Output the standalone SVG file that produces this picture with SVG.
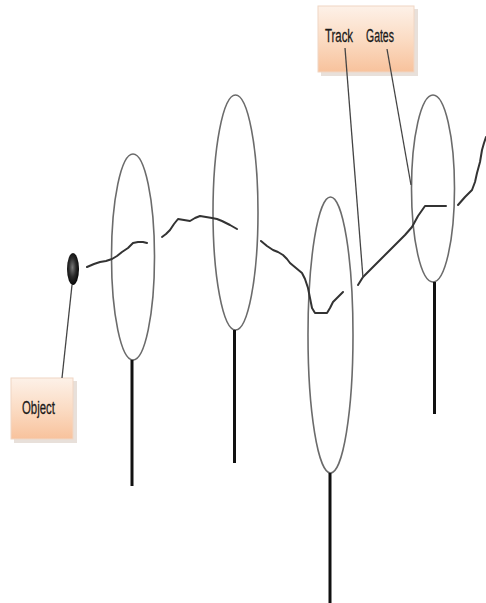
<svg xmlns="http://www.w3.org/2000/svg" width="486" height="603" viewBox="0 0 486 603">
<defs>
<linearGradient id="peach" x1="0" y1="0" x2="0" y2="1">
<stop offset="0" stop-color="#fdf1e8"/>
<stop offset="0.5" stop-color="#fbdcc4"/>
<stop offset="1" stop-color="#f8c29c"/>
</linearGradient>
<radialGradient id="ball" cx="0.45" cy="0.45" r="0.6">
<stop offset="0" stop-color="#777"/>
<stop offset="0.5" stop-color="#2a2a2a"/>
<stop offset="1" stop-color="#000"/>
</radialGradient>
</defs>
<style>
.gate{fill:none;stroke:#6b6b6b;stroke-width:1.6}
.pole{stroke:#111;stroke-width:3}
.track{fill:none;stroke:#333;stroke-width:2;stroke-linejoin:round;stroke-linecap:round}
.lead{fill:none;stroke:#444;stroke-width:1.3}
.box{fill:url(#peach);stroke:#f0d6c4;stroke-width:1}
.shadow{fill:#e8e0da}
.lbl{font-family:"Liberation Sans",Arial,sans-serif;font-size:19px;fill:#1a1a1a;stroke:#1a1a1a;stroke-width:0.3}
</style>
<rect width="486" height="603" fill="#fff"/>
<g id="gate1">
<ellipse class="gate" cx="133" cy="257" rx="21.5" ry="103"/>
<line class="pole" x1="132" y1="360" x2="132" y2="486"/>
</g>
<g id="gate2">
<ellipse class="gate" cx="235.5" cy="212.5" rx="22.5" ry="117.5"/>
<line class="pole" x1="234.5" y1="330" x2="234.5" y2="463"/>
</g>
<g id="gate3">
<ellipse class="gate" cx="330.5" cy="335" rx="22.5" ry="138"/>
<line class="pole" x1="330" y1="473" x2="330" y2="603"/>
</g>
<g id="gate4">
<ellipse class="gate" cx="433" cy="188.5" rx="21.5" ry="93.5"/>
<line class="pole" x1="434.5" y1="282" x2="434.5" y2="414"/>
</g>
<g id="object">
<ellipse cx="73" cy="269" rx="6" ry="16" fill="url(#ball)"/>
</g>
<g id="object-label">
<rect class="shadow" x="14" y="381" width="63" height="62"/>
<rect class="box" x="11" y="378" width="62" height="61"/>
<text class="lbl" transform="translate(22,414) scale(0.6,1)" font-size="16">Object</text>
</g>
<g id="track-gates-label">
<rect class="shadow" x="321" y="9" width="97" height="67"/>
<rect class="box" x="318" y="6" width="96" height="66"/>
<text class="lbl" transform="translate(325,42) scale(0.6,1)">Track</text>
<text class="lbl" transform="translate(366,42) scale(0.55,1)">Gates</text>
</g>
<g id="connectors">
<path class="track" d="M87,267 L94,264 L100,262 L106,261 L112,259 L117,256 L122,252 L128,248 L133,243 L138,242 L143,242 L147,243"/>
<path class="track" d="M162,237 L166,234 L170,230 L174,224 L178,219 L184,220 L190,221 L195,218 L200,216 L206,217 L212,218 L217,219 L222,221 L230,225 L237,229"/>
<path class="track" d="M261,241 L267,246 L273,250 L278,252 L283,255 L287,259 L290,263 L296,268 L302,273 L305,279 L308,288 L310,298 L312,308 L315,313 L321,313 L327,313 L330,308 L333,302 L338,297 L343,292"/>
<path class="track" d="M358,285 L363,277 L371,269 L380,260 L388,252 L397,243 L405,235 L412,227 L418,216 L425,206 L435,206 L446,206"/>
<path class="track" d="M458,205 L465,197 L472,190 L475,182 L477,173 L480,162 L482,150 L484,143 L486,137"/>
<line class="lead" x1="72" y1="285" x2="62" y2="378"/>
<line class="lead" x1="345" y1="48" x2="363" y2="278"/>
<line class="lead" x1="387" y1="49" x2="411" y2="185"/>
</g>
</svg>
